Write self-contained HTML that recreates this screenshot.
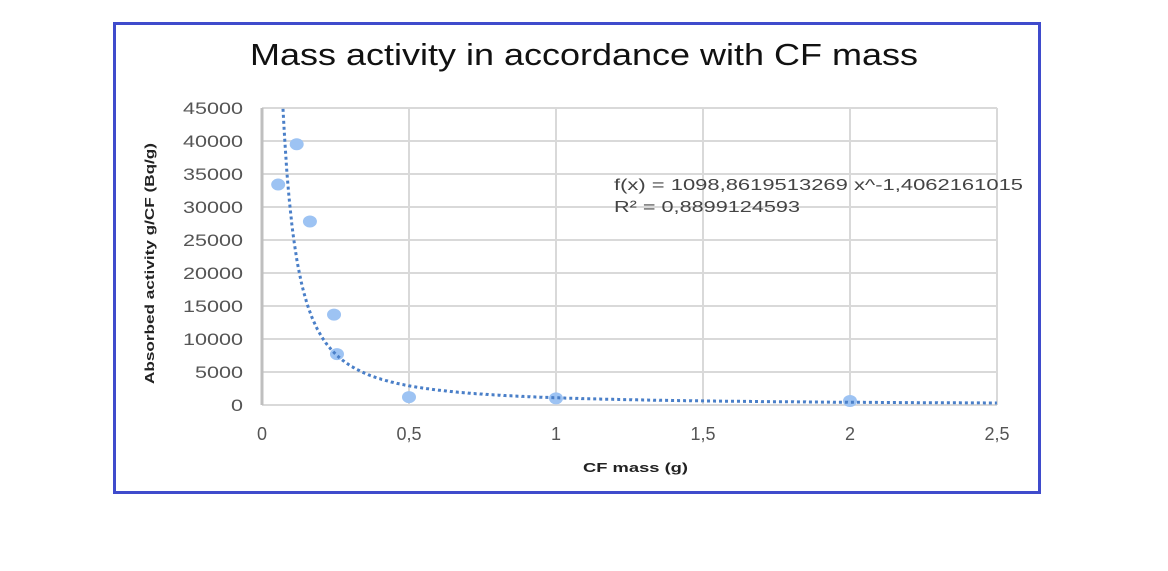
<!DOCTYPE html>
<html><head><meta charset="utf-8"><style>
body{margin:0;background:#fff;width:1168px;height:566px;overflow:hidden;font-family:"Liberation Sans",sans-serif}
</style></head><body>
<svg width="1168" height="566">
<rect x="114.5" y="23.5" width="925" height="469" fill="#fff" stroke="#3f4bcc" stroke-width="3"/>
<text x="250" y="65" font-size="31" textLength="668" lengthAdjust="spacingAndGlyphs" fill="#111">Mass activity in accordance with CF mass</text>
<g id="grid"></g>
<g id="marks"></g>
<text x="614" y="190" font-size="16" textLength="409" lengthAdjust="spacingAndGlyphs" fill="#444">f(x) = 1098,8619513269 x^-1,4062161015</text>
<text x="614" y="212" font-size="16" textLength="186" lengthAdjust="spacingAndGlyphs" fill="#444">R² = 0,8899124593</text>
<text x="583" y="472" font-size="13" font-weight="bold" textLength="105" lengthAdjust="spacingAndGlyphs" fill="#222">CF  mass (g)</text>
<text transform="translate(154,384) rotate(-90)" font-size="13" font-weight="bold" textLength="241" lengthAdjust="spacingAndGlyphs" fill="#222">Absorbed activity g/CF (Bq/g)</text>
</svg>
<script>
const xTicks=[0,0.5,1,1.5,2,2.5];
const xTickLabels=["0","0,5","1","1,5","2","2,5"];
const yTicks=[0,5000,10000,15000,20000,25000,30000,35000,40000,45000];
const massX=[0.055,0.118,0.163,0.245,0.255,0.5,1,2];
const activityY=[33400,39500,27800,13700,7700,1200,1000,600];
const coefA=1098.8619513269, coefB=-1.4062161015;
const ns="http://www.w3.org/2000/svg";
const X=v=>262+v*294, Y=v=>405-v/45000*297;
const grid=document.getElementById('grid'), marks=document.getElementById('marks');
function mk(p,tag,at){const e=document.createElementNS(ns,tag);for(const k in at)e.setAttribute(k,at[k]);p.appendChild(e);return e;}
yTicks.forEach((t,i)=>{
 const l=mk(grid,'line',{x1:262,x2:997,y1:Y(t),y2:Y(t),stroke:'#d9d9d9','stroke-width':2});
 
 
 const s=String(t);
 const tx=mk(grid,'text',{x:243-s.length*12,y:Y(t)+6,'font-size':17,textLength:s.length*12,lengthAdjust:'spacingAndGlyphs',fill:'#555'});
 tx.textContent=s;
 
 
});
xTicks.forEach((t,i)=>{
 const l=mk(grid,'line',{x1:X(t),x2:X(t),y1:108,y2:405,stroke:i==0?'#bfbfbf':'#d9d9d9','stroke-width':i==0?3:2});
 
 
 const tx=mk(grid,'text',{x:X(t),y:440,'font-size':18,'text-anchor':'middle',fill:'#555'});
 tx.textContent=xTickLabels[i];
 
 
});
massX.forEach((m,i)=>{
 const c=mk(marks,'ellipse',{cx:X(m),cy:Y(activityY[i]),rx:7,ry:6,fill:'#9dc3f3'});
 
 
});
let d='';
for(let x=0.0715;x<=2.5;x+=0.002){const y=coefA*Math.pow(x,coefB);d+=(d?'L':'M')+X(x).toFixed(1)+','+Y(y).toFixed(1);}
const p=mk(marks,'path',{d:d,fill:'none',stroke:'#4a7fc8','stroke-width':3,'stroke-dasharray':'3 3'});


</script>
</body></html>
